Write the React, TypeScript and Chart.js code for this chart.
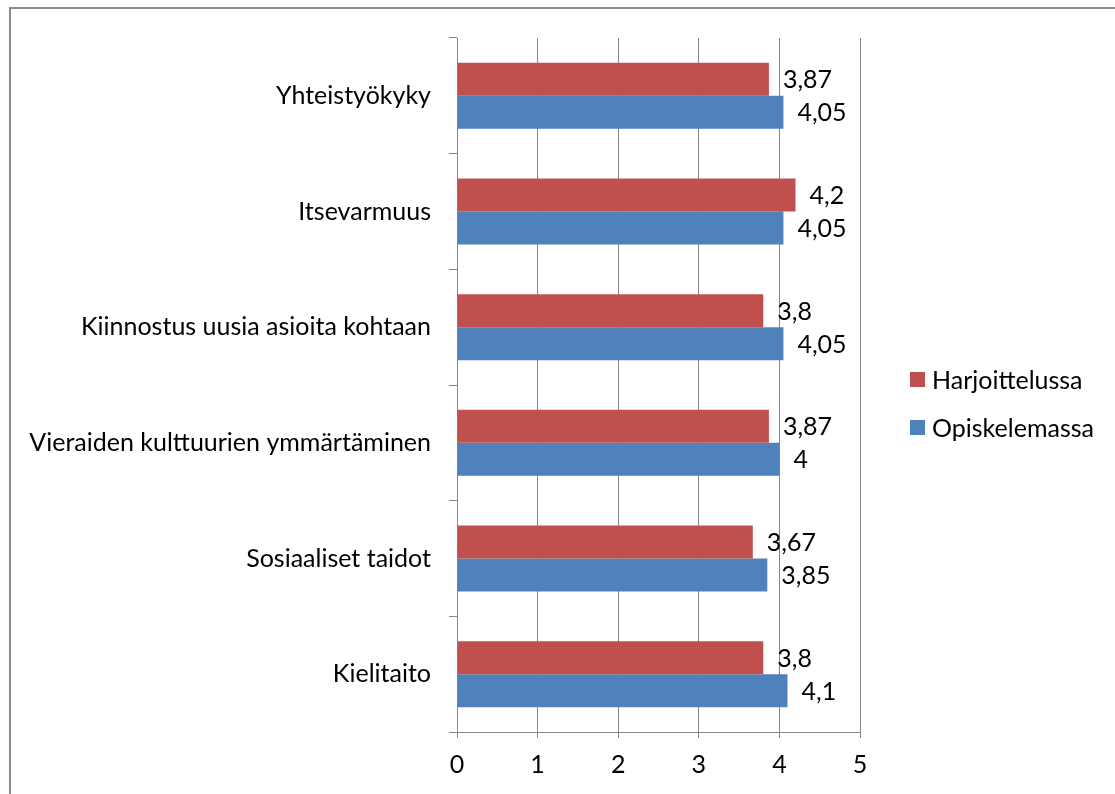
import React, { useEffect, useRef } from "react";
import { Chart, registerables } from "chart.js";

Chart.register(...registerables);

const categories: string[] = [
  "Yhteistyökyky",
  "Itsevarmuus",
  "Kiinnostus uusia asioita kohtaan",
  "Vieraiden kulttuurien ymmärtäminen",
  "Sosiaaliset taidot",
  "Kielitaito",
];
const harjoittelussa: number[] = [3.87, 4.2, 3.8, 3.87, 3.67, 3.8];
const opiskelemassa: number[] = [4.05, 4.05, 4.05, 4, 3.85, 4.1];
const seriesNames: string[] = ["Harjoittelussa", "Opiskelemassa"];
const seriesColors: string[] = ["#C0504D", "#4F81BD"];

const FONT = "Lato, 'Open Sans', sans-serif";
const FONT_SIZE = 25;
const GRID = "#878787";

const dataLabels = {
  id: "dataLabels",
  afterDatasetsDraw(chart: any) {
    const ctx = chart.ctx;
    ctx.save();
    ctx.font = `${FONT_SIZE}px ${FONT}`;
    ctx.fillStyle = "#000";
    ctx.textAlign = "left";
    ctx.textBaseline = "middle";
    chart.data.datasets.forEach((ds: any, di: number) => {
      const meta = chart.getDatasetMeta(di);
      meta.data.forEach((el: any, i: number) => {
        const v = ds.data[i];
        ctx.fillText(String(v).replace(".", ","), el.x + 14, el.y + 1);
      });
    });
    ctx.restore();
  },
};

const customLegend = {
  id: "customLegend",
  afterDraw(chart: any) {
    const ctx = chart.ctx;
    const area = chart.chartArea;
    ctx.save();
    ctx.font = `${FONT_SIZE}px ${FONT}`;
    ctx.textAlign = "left";
    ctx.textBaseline = "middle";
    const n = chart.data.datasets.length;
    const spacing = 48;
    const cy = chart.height / 2 + 2;
    chart.data.datasets.forEach((ds: any, i: number) => {
      const y = cy + (i - (n - 1) / 2) * spacing;
      const x = area.right + 50;
      ctx.fillStyle = ds.backgroundColor;
      ctx.fillRect(x, y - 7.5, 15, 15);
      ctx.fillStyle = "#000";
      ctx.fillText(ds.label, x + 22, y + 1);
    });
    ctx.restore();
  },
};

export default function App() {
  const canvasRef = useRef<HTMLCanvasElement | null>(null);

  useEffect(() => {
    document.documentElement.style.overflow = "hidden";
    document.body.style.overflow = "hidden";
    const canvas = canvasRef.current;
    if (!canvas) return;
    const chart = new Chart(canvas, {
      type: "bar",
      data: {
        labels: categories,
        datasets: [
          {
            label: seriesNames[0],
            data: harjoittelussa,
            backgroundColor: seriesColors[0],
            borderWidth: 0,
          },
          {
            label: seriesNames[1],
            data: opiskelemassa,
            backgroundColor: seriesColors[1],
            borderWidth: 0,
          },
        ],
      },
      options: {
        indexAxis: "y",
        responsive: false,
        animation: false,
        maintainAspectRatio: false,
        categoryPercentage: 0.57,
        barPercentage: 1.0,
        layout: { padding: { left: 0, top: 29, right: 255, bottom: 0 } },
        plugins: {
          legend: { display: false },
          tooltip: { enabled: false },
          title: { display: false },
        },
        scales: {
          x: {
            min: 0,
            max: 5,
            ticks: {
              stepSize: 1,
              color: "#000",
              padding: 12,
              font: { family: FONT, size: FONT_SIZE },
            },
            grid: {
              color: GRID,
              lineWidth: 1,
              tickLength: 6,
              drawTicks: true,
            },
            border: { display: true, color: GRID, width: 1 },
            afterFit(scale: any) {
              scale.height = 62;
              scale.paddingLeft = 0;
              scale.paddingRight = 0;
            },
          },
          y: {
            ticks: {
              color: "#000",
              padding: 18,
              font: { family: FONT, size: FONT_SIZE },
            },
            grid: {
              color: GRID,
              lineWidth: 1,
              drawOnChartArea: false,
              drawTicks: true,
              tickLength: 8,
              offset: true,
            },
            border: { display: true, color: GRID, width: 1 },
            afterFit(scale: any) {
              scale.width = 446;
              scale.paddingTop = 0;
              scale.paddingBottom = 0;
            },
          },
        },
      },
      plugins: [dataLabels, customLegend],
    });
    return () => chart.destroy();
  }, []);

  return (
    <div
      style={{
        position: "absolute",
        left: 9,
        top: 7,
        width: 1110,
        height: 800,
        border: "2px solid #8a8a8a",
        background: "#fff",
      }}
    >
      <canvas
        ref={canvasRef}
        width={1104}
        height={785}
        style={{ display: "block", width: 1104, height: 785 }}
      />
    </div>
  );
}
